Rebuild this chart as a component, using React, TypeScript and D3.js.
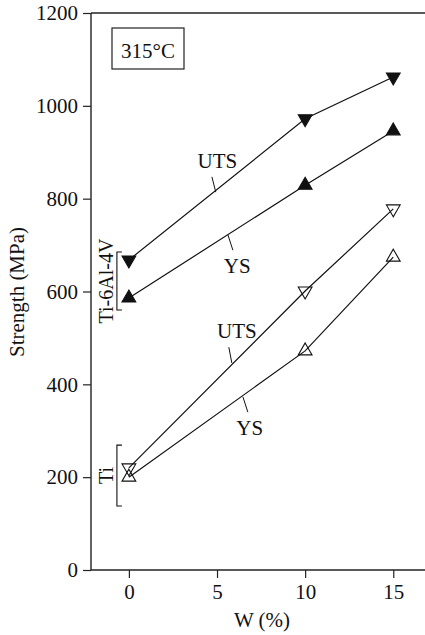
import React, { useEffect, useRef } from 'react';
import * as d3 from 'd3';

// W content (%)
const wContent = [0, 10, 15];
// Ti-6Al-4V + W (filled markers)
const alloyUTS = [668, 972, 1062];
const alloyYS = [586, 829, 946];
// Ti + W (open markers)
const tiUTS = [220, 601, 778];
const tiYS = [200, 472, 674];

const yTicks = [0, 200, 400, 600, 800, 1000, 1200];
const xTicks = [0, 5, 10, 15];

// curve labels: text position and leader line, in data units
const curveLabels = [
	{ text: 'UTS', x: 5.02, y: 866, lx1: 4.71, ly1: 847, lx2: 4.93, ly2: 814 },
	{ text: 'YS', x: 6.15, y: 640, lx1: 5.62, ly1: 722, lx2: 5.9, ly2: 689 },
	{ text: 'UTS', x: 6.13, y: 500, lx1: 5.67, ly1: 480, lx2: 5.84, ly2: 446 },
	{ text: 'YS', x: 6.86, y: 291, lx1: 6.47, ly1: 373, lx2: 6.75, ly2: 340 },
];

// material brackets at W = 0
const brackets = [
	{ text: 'Ti-6Al-4V', x: -0.68, y0: 560, y1: 685 },
	{ text: 'Ti', x: -0.68, y0: 138, y1: 269 },
];

const width = 425;
const height = 635;
const font = '"Liberation Serif", "DejaVu Serif", serif';

export default function App() {
	const ref = useRef<SVGSVGElement>(null);

	useEffect(() => {
		const svg = d3.select(ref.current);
		svg.selectAll('*').remove();
		svg.style('font-family', font);

		const x = d3.scaleLinear().domain([-2.15, 16.8]).range([91, 425]);
		const y = d3.scaleLinear().domain([0, 1200]).range([570, 13]);

		svg.append('rect').attr('width', width).attr('height', height).attr('fill', '#fff');

		// frame: top and bottom lines, left axis
		const frame = svg.append('g').attr('stroke', '#222').attr('stroke-width', 1.4);
		frame.append('line').attr('x1', 91).attr('x2', 425).attr('y1', y(1200)).attr('y2', y(1200));

		const yAxis = svg
			.append('g')
			.attr('transform', `translate(${x.range()[0]},0)`)
			.call(d3.axisLeft(y).tickValues(yTicks).tickSize(8).tickPadding(5).tickFormat(d3.format('d')));
		const xAxis = svg
			.append('g')
			.attr('transform', `translate(0,${y(0)})`)
			.call(d3.axisBottom(x).tickValues(xTicks).tickSize(8).tickPadding(6).tickFormat(d3.format('d')));

		[yAxis, xAxis].forEach(a => {
			a.select('.domain').attr('stroke', '#222').attr('stroke-width', 1.4);
			a.selectAll('.tick line').attr('stroke', '#222').attr('stroke-width', 1.2);
			a.selectAll('.tick text')
				.attr('fill', '#111')
				.style('font-family', font)
				.style('font-size', '21px');
		});
		yAxis.select('.domain').attr('d', `M0,${y(0)}V${y(1200)}`);
		xAxis.select('.domain').attr('d', `M${x.range()[0]},0H${x.range()[1]}`);

		// axis titles
		svg.append('text')
			.attr('x', 262)
			.attr('y', 627)
			.attr('text-anchor', 'middle')
			.style('font-size', '21px')
			.attr('fill', '#111')
			.text('W (%)');
		svg.append('text')
			.attr('transform', 'translate(24,292) rotate(-90)')
			.attr('text-anchor', 'middle')
			.style('font-size', '21px')
			.attr('fill', '#111')
			.text('Strength (MPa)');

		// temperature box
		svg.append('rect')
			.attr('x', 112)
			.attr('y', 28)
			.attr('width', 72)
			.attr('height', 41)
			.attr('fill', 'none')
			.attr('stroke', '#222')
			.attr('stroke-width', 1.2);
		svg.append('text')
			.attr('x', 148)
			.attr('y', 58)
			.attr('text-anchor', 'middle')
			.style('font-size', '21px')
			.attr('fill', '#111')
			.text('315°C');

		// curves
		const series = [
			{ values: alloyUTS, filled: true, down: true },
			{ values: alloyYS, filled: true, down: false },
			{ values: tiUTS, filled: false, down: true },
			{ values: tiYS, filled: false, down: false },
		];
		const line = d3
			.line<number>()
			.x((d, i) => x(wContent[i]))
			.y(d => y(d));
		const tri = d3.symbol().type(d3.symbolTriangle).size(82);

		series.forEach(s => {
			svg.append('path')
				.attr('d', line(s.values))
				.attr('fill', 'none')
				.attr('stroke', '#111')
				.attr('stroke-width', 1.2);
		});
		series.forEach(s => {
			svg.selectAll(null)
				.data(s.values)
				.enter()
				.append('path')
				.attr('d', tri())
				.attr('transform', (d, i) => `translate(${x(wContent[i])},${y(d)}) rotate(${s.down ? 180 : 0})`)
				.attr('fill', s.filled ? '#111' : 'none')
				.attr('stroke', '#111')
				.attr('stroke-width', 1.1);
		});

		// curve labels
		curveLabels.forEach(l => {
			svg.append('text')
				.attr('x', x(l.x))
				.attr('y', y(l.y))
				.attr('text-anchor', 'middle')
				.style('font-size', '21px')
				.attr('fill', '#111')
				.text(l.text);
			svg.append('line')
				.attr('x1', x(l.lx1))
				.attr('y1', y(l.ly1))
				.attr('x2', x(l.lx2))
				.attr('y2', y(l.ly2))
				.attr('stroke', '#111')
				.attr('stroke-width', 1);
		});

		// brackets
		brackets.forEach(b => {
			const bx = x(b.x);
			svg.append('path')
				.attr('d', `M${bx + 5},${y(b.y1)}H${bx}V${y(b.y0)}H${bx + 5}`)
				.attr('fill', 'none')
				.attr('stroke', '#111')
				.attr('stroke-width', 1.1);
			svg.append('text')
				.attr('transform', `translate(${bx - 4},${y((b.y0 + b.y1) / 2)}) rotate(-90)`)
				.attr('text-anchor', 'middle')
				.style('font-size', '20px')
				.attr('fill', '#111')
				.text(b.text);
		});
	}, []);

	return (
		<div style={{ position: 'absolute', left: 0, top: 0 }}>
			<svg ref={ref} width={width} height={height} style={{ display: 'block' }} />
		</div>
	);
}
